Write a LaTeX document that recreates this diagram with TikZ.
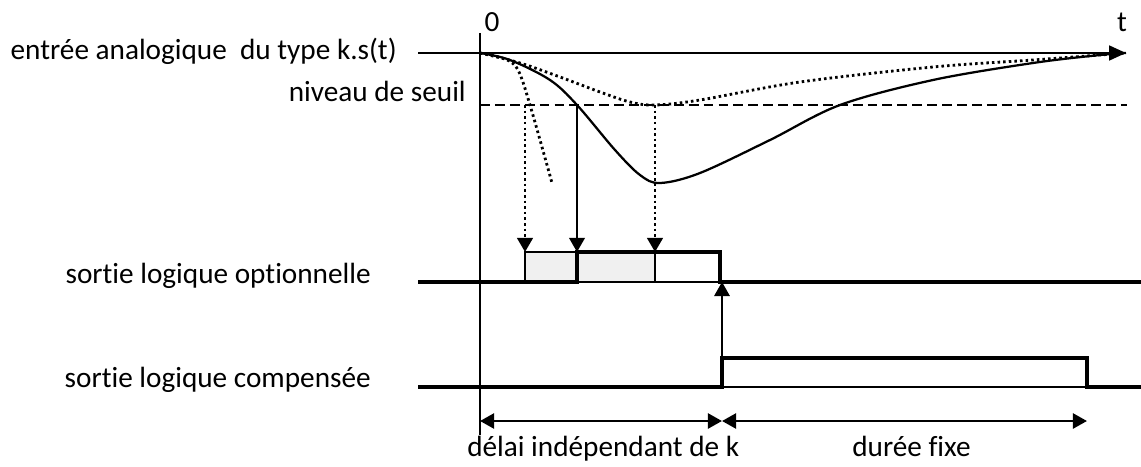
\documentclass[tikz,border=0pt]{standalone}
\usepackage{fontspec}
\setmainfont[Ligatures=CommonOff]{Carlito}
\usetikzlibrary{arrows.meta}

\tikzset{
  lbl/.style={font=\fontsize{20.8}{24}\selectfont, inner sep=0pt},
  fine/.style={line width=0.8pt},
  curve/.style={line width=1.6pt},
  sig/.style={line width=2.4pt},
  dots/.style={line width=2pt, dash pattern=on 1.8pt off 2.2pt},
  seuil/.style={line width=1pt, dash pattern=on 7pt off 3.6pt},
  tip/.style={-{Triangle[length=10pt,width=11pt]}},
  dim/.style={line width=1.9pt, {Triangle[length=10pt,width=10.6pt]}-{Triangle[length=10pt,width=10.6pt]}},
}

\begin{document}
\begin{tikzpicture}[x=0.025cm, y=-0.025cm]
  \useasboundingbox (0,0) rectangle (1141,466);
  % reperes
  \coordinate (o) at (480,53);
  \coordinate (tend) at (1126,53);
  \coordinate (x1) at (525,105);
  \coordinate (x2) at (577,105);
  \coordinate (x3) at (655,105);
  \coordinate (ot) at (720,252);
  \coordinate (ob) at (720,282);
  \coordinate (ct) at (722,358);
  \coordinate (cb) at (722,387);
  \coordinate (ce) at (1087,358);

  % textes
  \node[lbl, anchor=base east] (entree) at (397,60) {entrée analogique\ \ du type k.s(t)};
  \node[lbl, anchor=base east] (niveau) at (466,101) {niveau de seuil};
  \node[lbl, anchor=base] (zero) at (492,32) {0};
  \node[lbl, anchor=base] (temps) at (1122,32) {t};
  \node[lbl, anchor=base east] (optio) at (371,283) {sortie logique optionnelle};
  \node[lbl, anchor=base east] (compe) at (371,387) {sortie logique compensée};
  \node[lbl, anchor=base west] (delai) at (467,456) {délai indépendant de k};
  \node[lbl, anchor=base west] (duree) at (852,456) {durée fixe};

  % axes
  \draw[fine] (480,33) -- (480,435);
  \draw[curve, -{Triangle[length=12pt,width=10.5pt]}] (418,53) -- (tend);
  \draw[seuil] (480,105) -- (1127,105);

  % entrees k.s(t)
  \draw[curve] plot[smooth, tension=0.55] coordinates {(o) (510,60) (550,80) (577,105) (615,150) (640,175) (660,183) (700,173) (770,140) (840,105) (933,80) (1033,63) (1100,55) (tend)};
  \draw[dots] plot[smooth, tension=0.55] coordinates {(o) (520,63) (560,77) (600,92) (630,102) (655,105) (700,100) (800,82) (933,67) (1033,60) (1100,55) (tend)};
  \draw[dots] plot[smooth, tension=0.55] coordinates {(o) (505,59) (518,70) (530,105) (552,183)};

  % detection du seuil
  \draw[dots, tip] (x1) -- (x1 |- ot);
  \draw[curve, tip] (x2) -- (x2 |- ot);
  \draw[dots, tip] (x3) -- (x3 |- ot);

  % sortie optionnelle
  \fill[gray!12] (x1 |- ob) rectangle (x3 |- ot);
  \draw[fine] (x1 |- ob) rectangle (ot);
  \draw[fine] (x3 |- ot) -- (x3 |- ob);
  \draw[sig] (418,282) -- (x2 |- ob) -- (x2 |- ot) -- (ot) -- (ob) -- (1141,282);

  % sortie compensee
  \draw[fine] (cb) -- (ce |- cb);
  \draw[sig] (418,387) -- (cb) -- (ct) -- (ce) -- (ce |- cb) -- (1141,387);
  \draw[line width=1.3pt, tip] (cb) -- (ct |- ob);

  % durees
  \draw[dim] (480,421) -- (ct |- 0,421);
  \draw[dim] (ct |- 0,421) -- (ce |- 0,421);
\end{tikzpicture}
\end{document}
